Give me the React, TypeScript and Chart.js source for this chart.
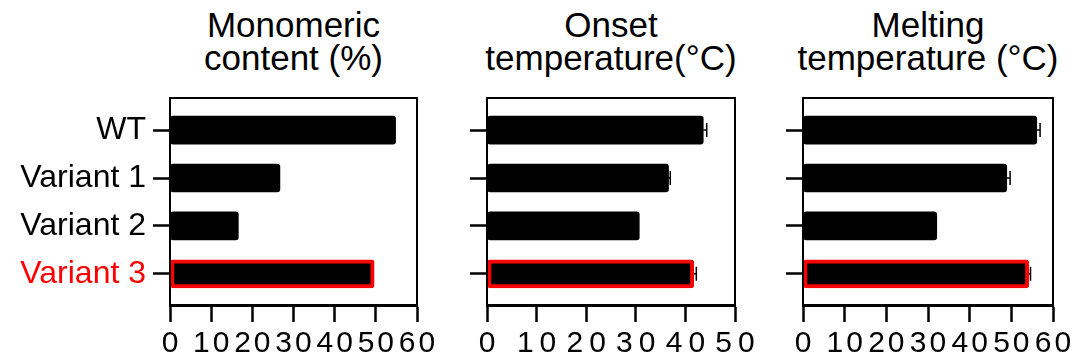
import React, { useEffect, useRef } from 'react';
import { Chart, registerables } from 'chart.js';
Chart.register(...registerables);

const categories = ['WT', 'Variant 1', 'Variant 2', 'Variant 3'];
const highlightIndex = 3;

const monomericContent = [54.8, 26.7, 16.6, 49.6];
const monomericError = [0, 0, 0, 0];
const monomericTicks = [0, 10, 20, 30, 40, 50, 60];

const onsetTemperature = [43.6, 36.6, 30.7, 41.7];
const onsetError = [0.7, 0.35, 0, 0.5];
const onsetTicks = [0, 10, 20, 30, 40, 50];

const meltingTemperature = [56.1, 48.9, 32.1, 54.2];
const meltingError = [0.8, 0.8, 0, 0.4];
const meltingTicks = [0, 10, 20, 30, 40, 50, 60];

const monomericTitle = ['Monomeric', 'content (%)'];
const onsetTitle = ['Onset', 'temperature(°C)'];
const meltingTitle = ['Melting', 'temperature (°C)'];

const FONT = '"Liberation Sans", Arial, Helvetica, sans-serif';

type PanelProps = {
  left: number;
  width: number;
  plotLeft: number;
  plotRight: number;
  values: number[];
  errors: number[];
  ticks: number[];
  showLabels: boolean;
  spacing: number;
  title: string[];
};

function Panel(props: PanelProps) {
  const ref = useRef<HTMLCanvasElement | null>(null);
  const canvasTop = 90;
  const canvasHeight = 273;
  useEffect(() => {
    const canvas = ref.current;
    if (!canvas) return;
    const { values, errors, ticks, showLabels, spacing } = props;
    const yWidth = props.plotLeft - props.left;
    const padRight = props.left + props.width - props.plotRight;

    const framePlugin = {
      id: 'frame',
      afterDatasetsDraw(chart: any) {
        const { ctx, chartArea } = chart;
        ctx.save();
        ctx.strokeStyle = '#000';
        ctx.lineWidth = 2;
        ctx.strokeRect(chartArea.left, chartArea.top, chartArea.right - chartArea.left, chartArea.bottom - chartArea.top);
        ctx.restore();
      },
    };

    const errorPlugin = {
      id: 'errorBars',
      afterDatasetsDraw(chart: any) {
        const { ctx } = chart;
        const xs = chart.scales.x;
        const ys = chart.scales.y;
        ctx.save();
        ctx.strokeStyle = '#000';
        ctx.lineWidth = 1.5;
        values.forEach((v, i) => {
          const e = errors[i];
          if (!e) return;
          const x0 = xs.getPixelForValue(v);
          const x1 = xs.getPixelForValue(v + e);
          const yc = ys.getPixelForValue(i);
          ctx.beginPath();
          ctx.moveTo(x0, yc);
          ctx.lineTo(x1, yc);
          ctx.moveTo(x1, yc - 7);
          ctx.lineTo(x1, yc + 7);
          ctx.stroke();
        });
        ctx.restore();
      },
    };

    const spacingPlugin = {
      id: 'tickSpacing',
      beforeDraw(chart: any) {
        const s = chart.scales.x;
        if (s && !s.__patched) {
          const orig = s.drawLabels.bind(s);
          s.drawLabels = (area: any) => {
            const ctx = chart.ctx as any;
            ctx.save();
            ctx.letterSpacing = spacing + 'px';
            ctx.translate(spacing / 2, 0);
            orig(area);
            ctx.restore();
          };
          s.__patched = true;
        }
      },
    };

    const chart = new Chart(canvas, {
      type: 'bar',
      data: {
        datasets: [
          {
            data: values.map((v, i) => ({ x: v, y: i })) as any,
            backgroundColor: '#000',
            borderColor: categories.map((_, i) => (i === highlightIndex ? '#ff0000' : '#000')),
            borderWidth: categories.map((_, i) => (i === highlightIndex ? 4 : 0)),
            borderSkipped: false,
            borderRadius: 3,
            barThickness: 28,
          },
        ],
      },
      options: {
        indexAxis: 'y',
        animation: false,
        responsive: false,
        devicePixelRatio: 1,
        layout: { padding: { left: 0, right: padRight, top: 8, bottom: 0 } },
        plugins: { legend: { display: false }, tooltip: { enabled: false }, title: { display: false } },
        scales: {
          x: {
            type: 'linear',
            min: ticks[0],
            max: ticks[ticks.length - 1],
            offset: false,
            afterBuildTicks: (s: any) => {
              s.ticks = ticks.map((v) => ({ value: v }));
            },
            afterFit: (s: any) => {
              s.height = 58;
              s.paddingLeft = 0;
              s.paddingRight = 0;
            },
            border: { display: true, color: '#000', width: 3 },
            grid: { display: true, offset: false, drawOnChartArea: false, drawTicks: true, tickLength: 17, tickWidth: 2.5, tickColor: '#000' },
            ticks: {
              autoSkip: false,
              maxRotation: 0,
              padding: 4,
              color: '#000',
              font: { family: FONT, size: 30 },
              callback: (v: any) => String(v),
            },
          },
          y: {
            type: 'linear',
            reverse: true,
            offset: false,
            min: -0.67,
            max: 3.65,
            bounds: 'data',
            afterDataLimits: (s: any) => {
              s.min = -0.67;
              s.max = 3.65;
            },
            afterBuildTicks: (s: any) => {
              s.ticks = categories.map((_, i) => ({ value: i }));
            },
            afterFit: (s: any) => {
              s.width = yWidth;
              s.paddingTop = 0;
              s.paddingBottom = 0;
            },
            border: { display: false },
            grid: { display: true, offset: false, drawOnChartArea: false, drawTicks: true, tickLength: 17, tickWidth: 2.5, tickColor: '#000' },
            ticks: {
              display: showLabels,
              autoSkip: false,
              padding: 7,
              font: { family: FONT, size: 32 },
              color: (c: any) => (c.index === highlightIndex ? '#ff0000' : '#000'),
              callback: (v: any) => categories[v as number] ?? '',
            },
          },
        },
      } as any,
      plugins: [framePlugin, errorPlugin, spacingPlugin],
    });
    return () => chart.destroy();
  }, []);

  const center = (props.plotLeft + props.plotRight) / 2;
  return (
    <>
      <div
        style={{
          position: 'absolute',
          left: center - 200,
          top: 8,
          width: 400,
          textAlign: 'center',
          fontFamily: FONT,
          fontSize: 35,
          lineHeight: '33px',
          color: '#000',
          whiteSpace: 'nowrap',
        }}
      >
        {props.title.map((t, i) => (
          <div key={i}>{t}</div>
        ))}
      </div>
      <canvas
        ref={ref}
        width={props.width}
        height={canvasHeight}
        style={{ position: 'absolute', left: props.left, top: canvasTop, width: props.width, height: canvasHeight }}
      />
    </>
  );
}

export default function App() {
  return (
    <div style={{ position: 'fixed', left: 0, top: 0, width: 1072, height: 363, background: '#fff', overflow: 'hidden' }}>
      <Panel left={0} width={440} plotLeft={170} plotRight={417} values={monomericContent} errors={monomericError} ticks={monomericTicks} showLabels={true} spacing={3} title={monomericTitle} />
      <Panel left={440} width={320} plotLeft={487} plotRight={735} values={onsetTemperature} errors={onsetError} ticks={onsetTicks} showLabels={false} spacing={6} title={onsetTitle} />
      <Panel left={760} width={312} plotLeft={803} plotRight={1053} values={meltingTemperature} errors={meltingError} ticks={meltingTicks} showLabels={false} spacing={3} title={meltingTitle} />
    </div>
  );
}
